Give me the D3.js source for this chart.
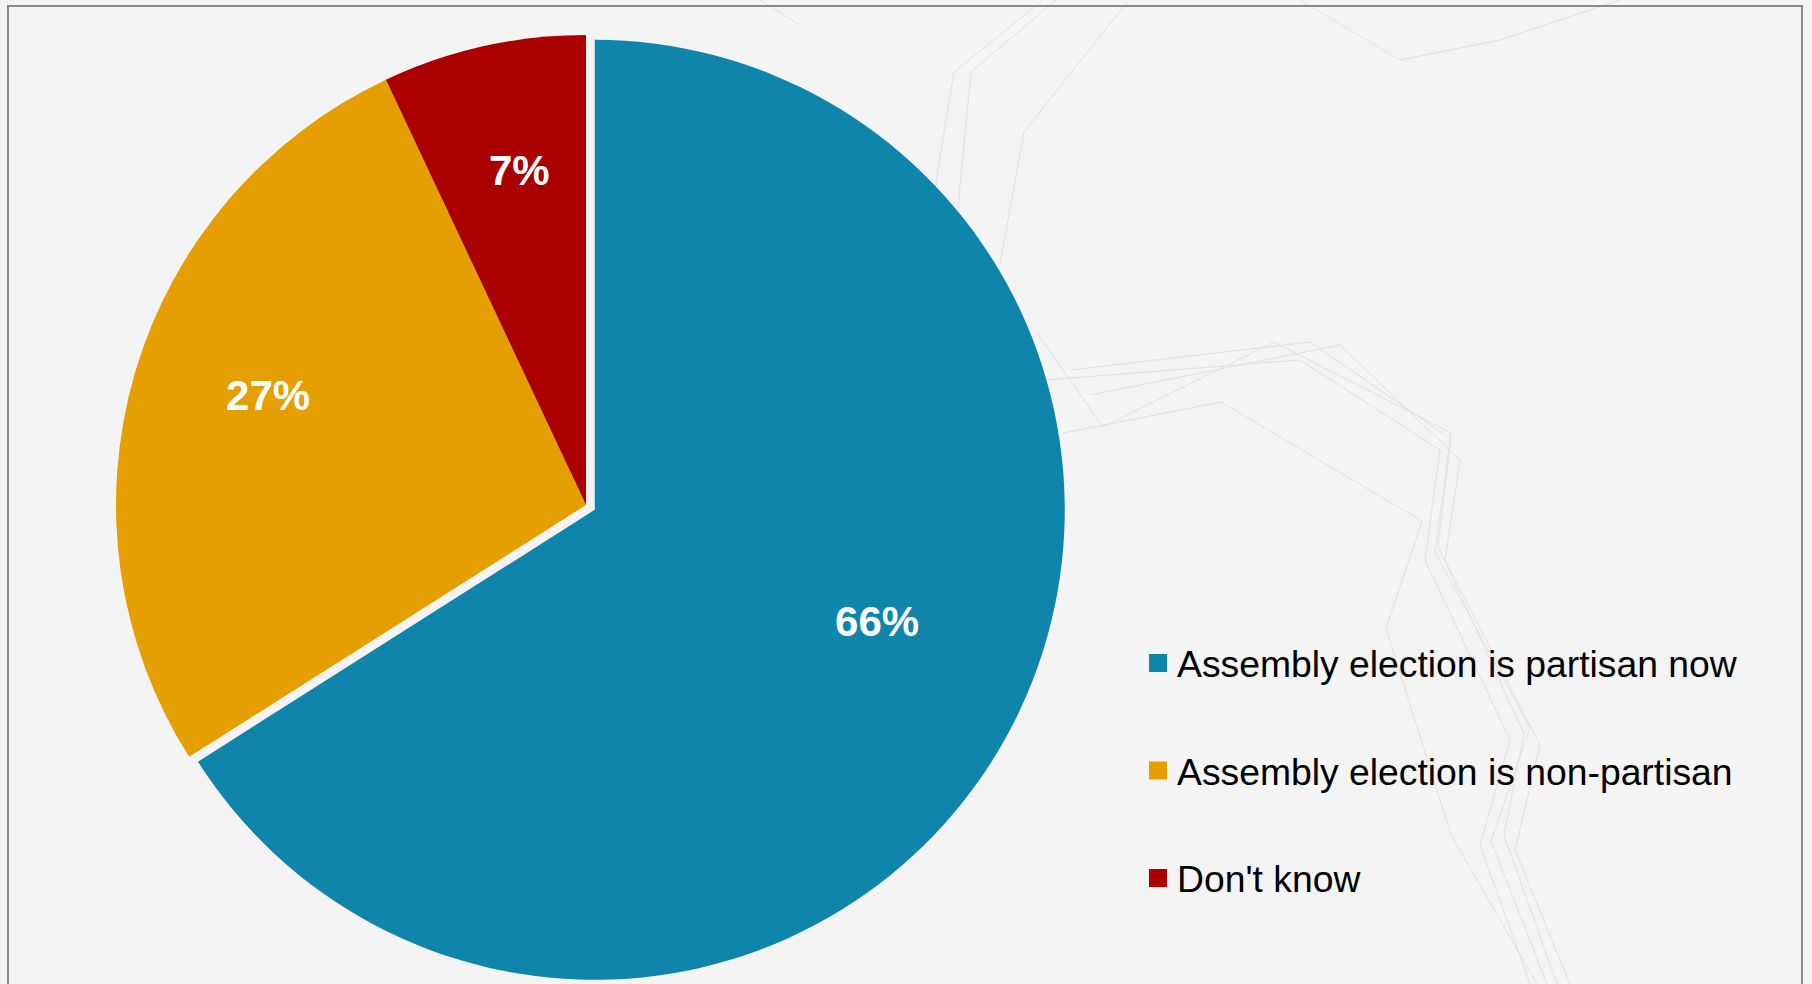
<!DOCTYPE html>
<html>
<head>
<meta charset="utf-8">
<script src="https://cdn.jsdelivr.net/npm/d3@7"></script>
<style>
  html, body { margin: 0; padding: 0; background: #f3f3f3; overflow: hidden; }
  svg { display: block; }
</style>
</head>
<body>
<svg id="chart" width="1812" height="984"></svg>
<script>
// ---- data ----
const categories = ["Assembly election is partisan now", "Assembly election is non-partisan", "Don't know"];
const values = [66, 27, 7];
const labels = ["66%", "27%", "7%"];
const colors = ["#1085ab", "#e69f00", "#aa0000"];

// ---- layout ----
const W = 1812, H = 984;
const cx = 586, cy = 505, R = 470;
const explode = [10, 0, 0];
const labelRadius = 0.7 * R;
const labelNudge = [[-6, -47], [-2, -18], [5, -14]];

const svg = d3.select("#chart");

// background
svg.append("rect").attr("width", W).attr("height", H).attr("fill", "#f4f4f4");

// faint decorative lines
const deco = [
  [[1043,0],[954,72],[935,188],[945,300]],
  [[1056,0],[971,72],[958,207],[968,320]],
  [[1129,0],[1024,132],[1000,264]],
  [[1037,333],[1103,427],[1274,342],[1451,433],[1435,552],[1530,728],[1491,841],[1547,984]],
  [[1063,433],[1221,402],[1422,521],[1386,628],[1451,835],[1537,984]],
  [[1070,370],[1310,342],[1451,439],[1438,546],[1524,734],[1504,835],[1557,984]],
  [[1045,380],[1300,360],[1440,450],[1425,560],[1510,740],[1480,845],[1530,984]],
  [[1090,395],[1340,345],[1460,460],[1445,560],[1540,745],[1515,850],[1570,984]],
  [[760,0],[800,25]],
  [[1300,0],[1400,60],[1500,40],[1620,0]]
];
const lineGen = d3.line();
svg.append("g").selectAll("path").data(deco).join("path")
  .attr("d", d => lineGen(d))
  .attr("fill", "none")
  .attr("stroke", "#e0e0e0")
  .attr("stroke-width", 1);

// frame
svg.append("rect")
  .attr("x", 8).attr("y", 6)
  .attr("width", 1794).attr("height", 1000)
  .attr("fill", "none")
  .attr("stroke", "#8a8a8a")
  .attr("stroke-width", 2);

// pie
const pie = d3.pie().sort(null).value(d => d.value);
const arcs = pie(values.map((v, i) => ({ value: v, i })));
const arc = d3.arc().innerRadius(0).outerRadius(R);
const labelArc = d3.arc().innerRadius(labelRadius).outerRadius(labelRadius);

function offset(d) {
  const a = (d.startAngle + d.endAngle) / 2;
  const e = explode[d.data.i];
  return [Math.sin(a) * e, -Math.cos(a) * e];
}

const g = svg.append("g").attr("transform", `translate(${cx},${cy})`);
g.selectAll("path.slice").data(arcs).join("path")
  .attr("class", "slice")
  .attr("d", arc)
  .attr("fill", d => colors[d.data.i])
  .attr("transform", d => { const o = offset(d); return `translate(${o[0]},${o[1]})`; });

g.selectAll("text.lbl").data(arcs).join("text")
  .attr("class", "lbl")
  .attr("transform", d => {
    const o = offset(d);
    const c = labelArc.centroid(d);
    const n = labelNudge[d.data.i];
    return `translate(${c[0] + o[0] + n[0]},${c[1] + o[1] + n[1]})`;
  })
  .attr("text-anchor", "middle")
  .attr("dy", "0.35em")
  .attr("font-family", "'Liberation Sans', Arial, sans-serif")
  .attr("font-weight", "bold")
  .attr("font-size", 42)
  .attr("fill", "#ffffff")
  .text(d => labels[d.data.i]);

// legend
const legY = d3.scalePoint().domain(categories).range([677, 892]);
const leg = svg.append("g");
const items = leg.selectAll("g").data(categories).join("g")
  .attr("transform", d => `translate(1149,${legY(d)})`);
items.append("rect")
  .attr("x", 0).attr("y", -23)
  .attr("width", 18).attr("height", 18)
  .attr("fill", (d, i) => colors[i]);
items.append("text")
  .attr("x", 28).attr("y", 0)
  .attr("font-family", "'Liberation Sans', Arial, sans-serif")
  .attr("font-size", 37.3)
  .attr("fill", "#000")
  .text(d => d);
</script>
</body>
</html>
